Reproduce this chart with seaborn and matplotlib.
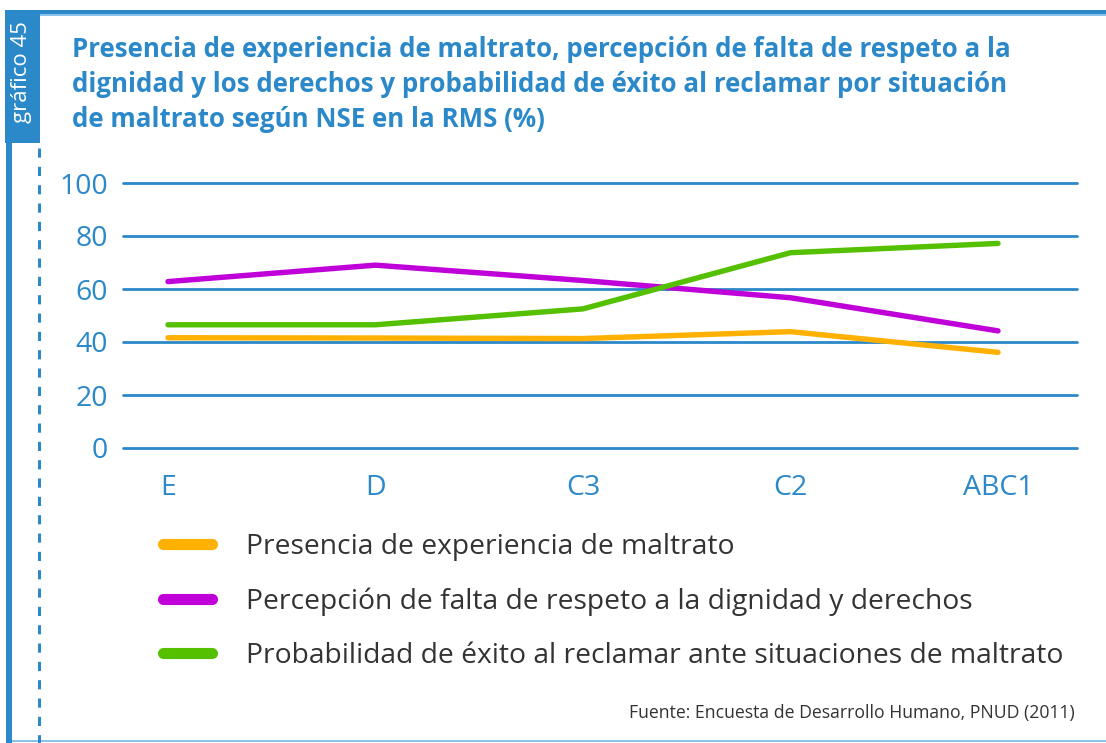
import matplotlib
matplotlib.use("Agg")
import matplotlib.pyplot as plt
from matplotlib.lines import Line2D
from matplotlib.patches import Rectangle
import seaborn as sns
import pandas as pd

# Data: socio-economic levels (NSE) and percentages for each indicator
categories = ["E", "D", "C3", "C2", "ABC1"]
maltrato = [41.6, 41.5, 41.3, 43.9, 36.1]
falta_respeto = [62.8, 69.0, 63.2, 56.7, 44.2]
exito_reclamo = [46.5, 46.5, 52.5, 73.7, 77.2]
series_names = [
    "Presencia de experiencia de maltrato",
    "Percepción de falta de respeto a la dignidad y derechos",
    "Probabilidad de éxito al reclamar ante situaciones de maltrato",
]
y_ticks = [0, 20, 40, 60, 80, 100]
title = ("Presencia de experiencia de maltrato, percepción de falta de respeto a la\n"
         "dignidad y los derechos y probabilidad de éxito al reclamar por situación\n"
         "de maltrato según NSE en la RMS (%)")
source = "Fuente: Encuesta de Desarrollo Humano, PNUD (2011)"
tag = "gráfico 45"

BLUE = "#2B88C9"
LIGHT_BLUE = "#8CC3E8"
colors = ["#FFB000", "#C000D8", "#55C000"]

sns.set_theme(style="white")
plt.rcParams["font.family"] = ["Open Sans", "DejaVu Sans"]

df = pd.DataFrame({
    "NSE": categories * 3,
    "valor": maltrato + falta_respeto + exito_reclamo,
    "serie": [series_names[0]] * 5 + [series_names[1]] * 5 + [series_names[2]] * 5,
})

W, H = 1106, 743
fig = plt.figure(figsize=(W / 100, H / 100), dpi=100)
fig.patch.set_facecolor("white")

# plot area: gridline 0 at y=448px, 100 at y=183px, gridlines span x=123..1077
ax = fig.add_axes([123 / W, 1 - 448 / H, (1077 - 123) / W, (448 - 183) / H])
ax.set_facecolor("none")

for v in y_ticks:
    ax.axhline(v, color=BLUE, lw=2.0, clip_on=False, zorder=1)

sns.lineplot(data=df, x="NSE", y="valor", hue="serie", palette=colors,
             hue_order=series_names, sort=False, lw=3.9, ax=ax, legend=False,
             zorder=3)
for ln in ax.get_lines()[len(y_ticks):]:
    ln.set_solid_capstyle("round")
    ln.set_solid_joinstyle("round")

step = (998 - 168) / 4
ax.set_xlim(-(168 - 123) / step, 4 + (1077 - 998) / step)
ax.set_ylim(0, 100)
ax.set_yticks(y_ticks)
ax.set_xticks(range(len(categories)))
ax.set_xticklabels(categories)
ax.tick_params(axis="both", length=0, labelcolor=BLUE, labelsize=20.5)
ax.tick_params(axis="y", pad=11)
ax.tick_params(axis="x", pad=19)
ax.set_xlabel("")
ax.set_ylabel("")
for s in ax.spines.values():
    s.set_visible(False)

# legend
handles = [Line2D([0], [0], color=c, lw=8, solid_capstyle="round") for c in colors]
leg = fig.legend(handles, series_names, loc="upper left",
                 bbox_to_anchor=(163 / W, 1 - 533 / H), frameon=False,
                 fontsize=20.3, handlelength=1.75, handletextpad=1.2,
                 labelspacing=0.93, borderpad=0, borderaxespad=0)
for t in leg.get_texts():
    t.set_color("#333333")

# title
fig.text(72 / W, 1 - 36 / H, title, ha="left", va="top", color=BLUE,
         fontsize=18.6, fontweight="bold", linespacing=1.37)

# source note
fig.text(1075 / W, 1 - 713 / H, source, ha="right", va="center",
         color="#333333", fontsize=12.7)

# frame decoration
def px_rect(x0, y0, x1, y1, **kw):
    fig.patches.append(Rectangle((x0 / W, 1 - y1 / H), (x1 - x0) / W, (y1 - y0) / H,
                                 transform=fig.transFigure, **kw))

px_rect(5, 10, W, 14, color=BLUE, lw=0)
px_rect(5, 14, W, 16, color=LIGHT_BLUE, lw=0)
px_rect(5, 10, 40, 143, color=BLUE, lw=0)
px_rect(6, 143, 12, H, color=BLUE, lw=0)
px_rect(12, H - 3, W, H - 1, color=LIGHT_BLUE, lw=0)
fig.lines.append(Line2D([38.5 / W, 38.5 / W], [1 - 148 / H, 0],
                        transform=fig.transFigure, color=BLUE, lw=2.2,
                        ls=(0, (3, 3))))
fig.text(22 / W, 1 - 72 / H, tag, rotation=90, ha="center", va="center",
         color="white", fontsize=16)

fig.savefig("out.png", dpi=100, facecolor="white")
